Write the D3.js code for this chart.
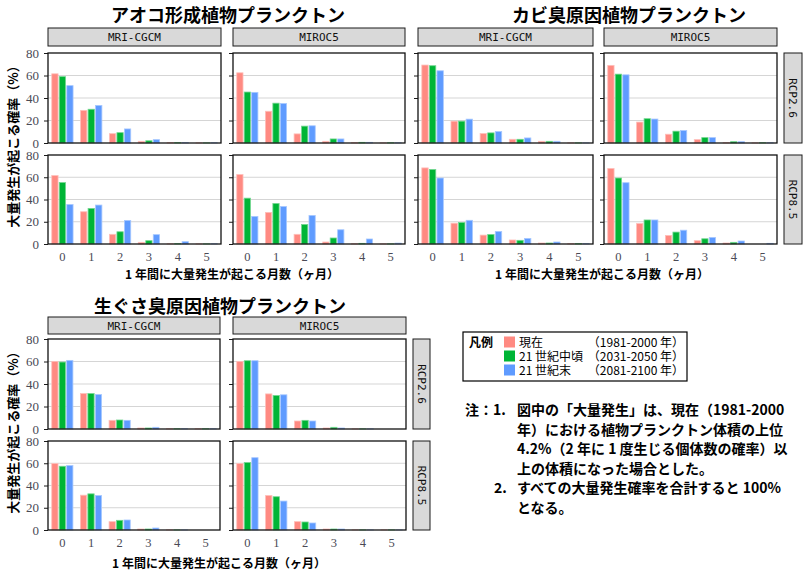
<!DOCTYPE html>
<html><head><meta charset="utf-8">
<script src="https://cdn.jsdelivr.net/npm/d3@7"></script>
<style>
body{margin:0;background:#fff;}
svg{display:block;}
</style></head>
<body>
<svg id="chart" width="812" height="574"></svg>
<script>
// ---------- data ----------
const months = ["0","1","2","3","4","5"];
const periods = ["現在","21 世紀中頃","21 世紀末"];
const periodYears = ["（1981-2000 年）","（2031-2050 年）","（2081-2100 年）"];
const models = ["MRI-CGCM","MIROC5"];
const scenarios = ["RCP2.6","RCP8.5"];
const yTicks = [0,20,40,60,80];
const blockTitles = ["アオコ形成植物プランクトン","カビ臭原因植物プランクトン","生ぐさ臭原因植物プランクトン"];
const yTitle = "大量発生が起こる確率（%）";
const xTitle = "1 年間に大量発生が起こる月数（ヶ月）";

// each array: [現在, 21世紀中頃, 21世紀末] x months 0..5 (%)
const aoko_MRI_RCP26    = [[61.5,29,8.3,1.5,0.3,0.1],[59,30,9.2,2,0.3,0.1],[51,33.4,12.5,3,0.3,0.2]];
const aoko_MIROC5_RCP26 = [[62.4,28.2,8.1,1.5,0.3,0.1],[45.3,35.4,15,3.6,0.6,0.2],[45,35.1,15.3,3.6,0.6,0.2]];
const aoko_MRI_RCP85    = [[61.5,29,8.7,1.5,0.2,0.1],[55.2,32,11,3,0.3,0.1],[35.5,35,21.2,8.4,2.1,0.2]];
const aoko_MIROC5_RCP85 = [[62.4,28.4,8.7,1.8,0.2,0.1],[41.2,36.4,17.6,5.4,0.6,0.1],[24.8,33.7,25.7,12.8,4.5,0.8]];

const kabi_MRI_RCP26    = [[69.3,19.4,8.4,3.3,1.5,0.1],[68.7,19.4,9,3.3,1.5,0.1],[64.2,21.2,10.2,4.5,1.5,0.1]];
const kabi_MIROC5_RCP26 = [[69,18.6,7.8,3,0.3,0.1],[61.2,21.6,10.5,4.8,1.2,0.2],[60.6,21.3,11.1,4.8,1.2,0.2]];
const kabi_MRI_RCP85    = [[68.4,18.7,8,3.6,0.9,0.3],[67,19.3,8.6,3.3,0.9,0.3],[59.3,21.3,11.3,5,1.8,0.3]];
const kabi_MIROC5_RCP85 = [[67.9,18.4,7.7,3,0.9,0],[59.3,21.6,10.7,4.7,1.5,0],[55.1,21.6,12.4,5.9,2.7,0.6]];

const nama_MRI_RCP26    = [[60.1,31.5,7.7,0.9,0.2,0.2],[59.5,31.5,8,0.9,0.2,0.2],[61,30.6,7.7,1.5,0.2,0.2]];
const nama_MIROC5_RCP26 = [[60.1,31.2,7.1,0.9,0.1,0],[60.7,29.8,7.7,1.5,0.1,0],[60.7,30.4,7.1,0.9,0.1,0]];
const nama_MRI_RCP85    = [[59.7,31.3,7.5,0.9,0.1,0],[57.3,32.5,8.7,0.9,0.1,0],[57.9,31,9,1.8,0.1,0]];
const nama_MIROC5_RCP85 = [[59.7,31,7.5,0.9,0.1,0.1],[60.6,29.9,7.2,0.9,0.1,0.1],[65,26,6.3,0.9,0.1,0.1]];

const noteLines = [
  "図中の「大量発生」は、現在（1981-2000",
  "年）における植物プランクトン体積の上位",
  "4.2%（2 年に 1 度生じる個体数の確率）以",
  "上の体積になった場合とした。"
];
const noteLines2 = ["すべての大量発生確率を合計すると 100%","となる。"];

// ---------- styles ----------
const palette = ["#FF8A82","#00B536","#5F9BFF"];
const JP = "'Noto Sans CJK JP','Noto Sans',sans-serif";
const SERIF = "'Liberation Serif','DejaVu Serif',serif";
const MONO = "'DejaVu Sans Mono','Liberation Mono',monospace";

const svg = d3.select("#chart");
const color = d3.scaleOrdinal().domain(periods).range(palette);
const y0scale = d3.scaleLinear().domain([0,80]);

function drawBlock(cfg){
  const g = svg.append("g");
  g.append("text").attr("x",cfg.titleX).attr("y",cfg.titleY)
    .attr("text-anchor","middle").attr("font-family",JP).attr("font-weight","bold")
    .attr("font-size",18).text(cfg.title);
  cfg.cols.forEach((c,ci)=>{
    g.append("rect").attr("x",c[0]).attr("y",cfg.stripY[0]).attr("width",c[1]-c[0]).attr("height",cfg.stripY[1]-cfg.stripY[0])
      .attr("fill","#D9D9D9").attr("stroke","#1a1a1a").attr("stroke-width",1);
    g.append("text").attr("x",(c[0]+c[1])/2).attr("y",(cfg.stripY[0]+cfg.stripY[1])/2+4)
      .attr("text-anchor","middle").attr("font-family",MONO).attr("font-size",11).attr("fill","#111").text(models[ci]);
  });
  cfg.rows.forEach((r,ri)=>{
    if(cfg.rcpX){
      g.append("rect").attr("x",cfg.rcpX[0]).attr("y",r[0]).attr("width",cfg.rcpX[1]-cfg.rcpX[0]).attr("height",r[1]-r[0])
        .attr("fill","#D9D9D9").attr("stroke","#1a1a1a").attr("stroke-width",1);
      const cx=(cfg.rcpX[0]+cfg.rcpX[1])/2, cy=(r[0]+r[1])/2;
      g.append("text").attr("transform",`translate(${cx-4},${cy}) rotate(90)`)
        .attr("text-anchor","middle").attr("font-family",MONO).attr("font-size",11).attr("fill","#111").text(scenarios[ri]);
    }
    cfg.cols.forEach((c,ci)=>{
      const data = cfg.panels[ri][ci];
      const x = d3.scaleBand().domain(months).range([c[0],c[1]]).padding(0);
      const xd = d3.scaleBand().domain(periods).range([x.bandwidth()*0.11, x.bandwidth()*0.89]).padding(0);
      const y = y0scale.copy().range([r[1],r[0]]);
      const pg = g.append("g");
      pg.selectAll("line.grid").data(yTicks.filter(t=>t>0&&t<80)).enter().append("line")
        .attr("x1",c[0]).attr("x2",c[1]).attr("y1",d=>y(d)).attr("y2",d=>y(d))
        .attr("stroke","#D5D5D5").attr("stroke-width",1);
      periods.forEach((p,pi)=>{
        pg.selectAll(null).data(data[pi]).enter().append("rect")
          .attr("x",(d,i)=>x(months[i])+xd(p)+0.6)
          .attr("width",xd.bandwidth()-1.2)
          .attr("y",d=>y(d))
          .attr("height",d=>Math.max(0,y(0)-y(d)))
          .attr("fill",color(p))
          .attr("stroke",d3.interpolateRgb(color(p),"#ffffff")(0.45))
          .attr("stroke-width",0.8);
      });
      const ax = d3.axisLeft(y).tickValues(yTicks).tickSize(4).tickPadding(5)
        .tickFormat(d=> (cfg.yLabels && ci===0) ? d : "");
      const ag = pg.append("g").attr("transform",`translate(${c[0]},0)`).call(ax);
      ag.select(".domain").remove();
      ag.selectAll("line").attr("stroke","#1a1a1a").attr("stroke-width",1);
      ag.selectAll("text").attr("font-family",SERIF).attr("font-size",13).attr("fill","#4a4a55");
      if(ri===cfg.rows.length-1){
        const bx = d3.axisBottom(x).tickSize(0).tickPadding(8);
        const bg = pg.append("g").attr("transform",`translate(0,${r[1]})`).call(bx);
        bg.select(".domain").remove();
        bg.selectAll("text").attr("font-family",SERIF).attr("font-size",12.5).attr("fill","#4a4a55");
      }
      pg.append("rect").attr("x",c[0]).attr("y",r[0]).attr("width",c[1]-c[0]).attr("height",r[1]-r[0])
        .attr("fill","none").attr("stroke","#111").attr("stroke-width",1.3);
    });
  });
  if(cfg.yLabels){
    const cy=(cfg.rows[0][0]+cfg.rows[1][1])/2-5;
    g.append("text").attr("transform",`translate(${cfg.yTitleX},${cy}) rotate(-90)`)
      .attr("text-anchor","middle").attr("font-family",JP).attr("font-weight","bold").attr("font-size",13).text(yTitle);
  }
  g.append("text").attr("x",cfg.xTitleX).attr("y",cfg.xTitleY).attr("text-anchor","middle")
    .attr("font-family",JP).attr("font-weight","bold").attr("font-size",12).text(xTitle);
}

drawBlock({
  title:blockTitles[0], titleX:228, titleY:22,
  cols:[[48,221],[233,405]], rows:[[53,143],[155,244]], stripY:[28,46], rcpX:null,
  yLabels:true, yTitleX:18, xTitleX:232, xTitleY:279,
  panels:[[aoko_MRI_RCP26,aoko_MIROC5_RCP26],[aoko_MRI_RCP85,aoko_MIROC5_RCP85]]
});
drawBlock({
  title:blockTitles[1], titleX:629, titleY:22,
  cols:[[418,593],[604,777]], rows:[[53,143],[155,244]], stripY:[28,46], rcpX:[784,802],
  yLabels:false, xTitleX:602, xTitleY:279,
  panels:[[kabi_MRI_RCP26,kabi_MIROC5_RCP26],[kabi_MRI_RCP85,kabi_MIROC5_RCP85]]
});
drawBlock({
  title:blockTitles[2], titleX:220, titleY:313,
  cols:[[48,220],[233,406]], rows:[[339,429],[441,530]], stripY:[317,334], rcpX:[413,430],
  yLabels:true, yTitleX:18, xTitleX:219, xTitleY:568,
  panels:[[nama_MRI_RCP26,nama_MIROC5_RCP26],[nama_MRI_RCP85,nama_MIROC5_RCP85]]
});

// ---------- legend ----------
const lg = svg.append("g").attr("font-family",JP).attr("font-size",12);
lg.append("rect").attr("x",463).attr("y",332).attr("width",224).attr("height",49)
  .attr("fill","#fff").attr("stroke","#000").attr("stroke-width",1.2);
lg.append("text").attr("x",469).attr("y",346.5).attr("font-weight","bold").text("凡例");
const ly = d3.scalePoint().domain(periods).range([342,370]);
periods.forEach((p,i)=>{
  lg.append("rect").attr("x",504).attr("y",ly(p)-5.5).attr("width",11).attr("height",11).attr("fill",color(p));
  lg.append("text").attr("x",519).attr("y",ly(p)+4.5).text(p);
  lg.append("text").attr("x",684).attr("y",ly(p)+4.5).attr("text-anchor","end").text(periodYears[i]);
});

// ---------- notes ----------
const ng = svg.append("g").attr("font-family",JP).attr("font-weight","bold").attr("font-size",14);
ng.append("text").attr("x",465).attr("y",415).text("注：1.");
noteLines.forEach((t,i)=> ng.append("text").attr("x",517).attr("y",415+i*19.5).text(t));
ng.append("text").attr("x",494).attr("y",493).text("2.");
noteLines2.forEach((t,i)=> ng.append("text").attr("x",517).attr("y",493+i*20).text(t));
</script>
</body></html>
